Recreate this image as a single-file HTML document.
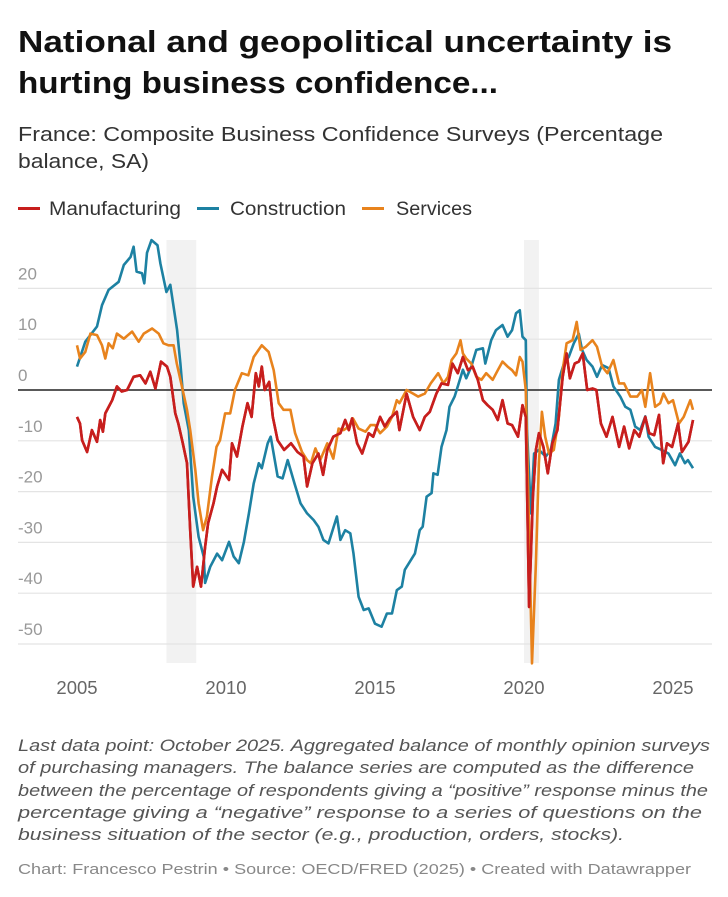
<!DOCTYPE html>
<html><head><meta charset="utf-8">
<style>
html,body{margin:0;padding:0;background:#fff;}
svg{display:block;font-family:"Liberation Sans",Arial,sans-serif;}
</style></head>
<body>
<svg id="chart" width="728" height="897" viewBox="0 0 728 897" xmlns="http://www.w3.org/2000/svg">
<g font-weight="bold" font-size="31" fill="#111">
<text x="18" y="52" textLength="654" lengthAdjust="spacingAndGlyphs">National and geopolitical uncertainty is</text>
<text x="18" y="93" textLength="480" lengthAdjust="spacingAndGlyphs">hurting business confidence...</text>
</g>
<g font-size="20" fill="#333">
<text x="18" y="141" textLength="645" lengthAdjust="spacingAndGlyphs">France: Composite Business Confidence Surveys (Percentage</text>
<text x="18" y="168" textLength="131" lengthAdjust="spacingAndGlyphs">balance, SA)</text>
</g>
<g font-size="19" fill="#333">
<g><rect x="18" y="207" width="22" height="3" fill="#c71e1d"/><text x="49" y="215" textLength="132" lengthAdjust="spacingAndGlyphs">Manufacturing</text></g>
<g><rect x="197" y="207" width="22" height="3" fill="#1d81a2"/><text x="230" y="215" textLength="116" lengthAdjust="spacingAndGlyphs">Construction</text></g>
<g><rect x="362" y="207" width="22" height="3" fill="#e8831d"/><text x="396" y="215" textLength="76" lengthAdjust="spacingAndGlyphs">Services</text></g>
</g>
<g id="plot"></g>
<g font-size="17" font-style="italic" fill="#555">
<text x="18" y="751" textLength="692" lengthAdjust="spacingAndGlyphs">Last data point: October 2025. Aggregated balance of monthly opinion surveys</text>
<text x="18" y="773" textLength="676" lengthAdjust="spacingAndGlyphs">of purchasing managers. The balance series are computed as the difference</text>
<text x="18" y="796" textLength="690" lengthAdjust="spacingAndGlyphs">between the percentage of respondents giving a “positive” response minus the</text>
<text x="18" y="818" textLength="684" lengthAdjust="spacingAndGlyphs">percentage giving a “negative” response to a series of questions on the</text>
<text x="18" y="840" textLength="606" lengthAdjust="spacingAndGlyphs">business situation of the sector (e.g., production, orders, stocks).</text>
</g>
<text x="18" y="874" font-size="15" fill="#888" textLength="673" lengthAdjust="spacingAndGlyphs">Chart: Francesco Pestrin • Source: OECD/FRED (2025) • Created with Datawrapper</text>
</svg>
<script>
const yTicks=[20,10,0,-10,-20,-30,-40,-50];
const xTicks=[2005,2010,2015,2020,2025];
const recessions=[[2008.0,2009.0],[2020.0,2020.5]];
const conT=[2005.0,2005.28,2005.67,2005.84,2006.06,2006.4,2006.57,2006.8,2006.9,2007.0,2007.18,2007.26,2007.35,2007.5,2007.7,2007.8,2008.0,2008.13,2008.36,2008.47,2008.58,2008.75,2008.9,2009.08,2009.25,2009.3,2009.47,2009.7,2009.87,2010.1,2010.26,2010.43,2010.6,2010.77,2010.93,2011.1,2011.2,2011.4,2011.5,2011.73,2011.9,2012.07,2012.3,2012.5,2012.72,2012.94,2013.1,2013.27,2013.44,2013.72,2013.84,2014.0,2014.17,2014.28,2014.45,2014.62,2014.79,2015.0,2015.22,2015.4,2015.57,2015.73,2015.9,2016.0,2016.34,2016.5,2016.6,2016.73,2016.9,2016.96,2017.1,2017.23,2017.4,2017.5,2017.67,2017.78,2017.95,2018.06,2018.23,2018.4,2018.62,2018.7,2018.9,2019.06,2019.28,2019.45,2019.6,2019.73,2019.86,2019.95,2020.06,2020.1,2020.23,2020.34,2020.5,2020.73,2020.9,2021.06,2021.17,2021.34,2021.5,2021.67,2021.84,2021.95,2022.1,2022.3,2022.45,2022.62,2022.84,2023.0,2023.23,2023.4,2023.57,2023.73,2023.9,2024.07,2024.18,2024.4,2024.62,2024.85,2025.07,2025.23,2025.4,2025.5,2025.67];
const conV=[4.6,9.5,12.5,16.7,19.7,21.3,24.6,26.2,28.2,23.3,23,21,27,29.5,28.5,24.9,19.3,20.7,11.8,5.2,-2.6,-7.9,-21,-28.9,-32.8,-38,-34.8,-32.2,-33.5,-29.9,-32.8,-34.1,-29.9,-24.3,-18.4,-14.4,-15.4,-10.5,-9.2,-17,-17.4,-13.8,-18.4,-22.3,-24.3,-25.6,-26.9,-29.5,-30.2,-24.9,-29.5,-27.6,-28.2,-32.2,-40.7,-43.3,-43,-46,-46.6,-44,-44,-39.4,-38.7,-35.4,-32.2,-27.6,-26.9,-21,-20.3,-16.4,-16.7,-11.2,-7.9,-3.3,-1.3,0.7,4.0,2.3,4.6,7.9,8.2,5.2,9.8,11.8,12.8,10.5,11.8,15.1,15.7,10.5,9.8,-7.9,-24.3,-12.5,-11.8,-13.1,-11.8,-6.6,2,5.2,6.5,9.2,11.1,7.9,5.9,4.6,2.6,4.9,4.3,0.7,-1.3,-3.3,-3.9,-7.2,-7.9,-5.2,-9.2,-11.2,-11.8,-12.5,-14.8,-12.5,-14.4,-13.8,-15.4];
const manT=[2005.0,2005.1,2005.17,2005.34,2005.5,2005.67,2005.78,2005.87,2005.95,2006.18,2006.34,2006.5,2006.68,2006.9,2007.12,2007.3,2007.46,2007.63,2007.82,2008.02,2008.13,2008.3,2008.4,2008.55,2008.69,2008.8,2008.9,2009.03,2009.16,2009.3,2009.4,2009.58,2009.7,2009.87,2010.1,2010.2,2010.37,2010.55,2010.72,2010.86,2011.0,2011.1,2011.2,2011.3,2011.45,2011.57,2011.73,2011.95,2012.18,2012.4,2012.6,2012.72,2012.9,2013.1,2013.26,2013.4,2013.6,2013.84,2014.0,2014.12,2014.23,2014.4,2014.57,2014.79,2014.94,2015.17,2015.33,2015.5,2015.73,2015.82,2016.06,2016.28,2016.5,2016.67,2016.84,2017.06,2017.23,2017.45,2017.6,2017.78,2017.95,2018.12,2018.28,2018.45,2018.62,2018.78,2018.95,2019.12,2019.28,2019.45,2019.6,2019.8,2019.95,2020.06,2020.17,2020.3,2020.4,2020.5,2020.65,2020.8,2020.95,2021.12,2021.3,2021.43,2021.54,2021.7,2021.84,2021.97,2022.12,2022.3,2022.43,2022.58,2022.77,2022.97,2023.19,2023.36,2023.53,2023.7,2023.87,2024.07,2024.2,2024.37,2024.53,2024.67,2024.8,2024.97,2025.17,2025.3,2025.52,2025.67];
const manV=[-5.3,-6.6,-9.9,-12.2,-7.9,-10.2,-5.9,-8.2,-4.6,-2,0.7,-0.3,0,2.6,2.9,1.3,3.6,0.3,5.6,4.6,2.6,-4.6,-6.6,-10.5,-14.4,-27.6,-38.7,-34.8,-38.7,-30.9,-26.2,-22.3,-19,-15.7,-17.7,-10.5,-13.1,-7.2,-2.6,-5.3,3.3,0.7,4.6,0,1.6,-5.3,-9.9,-11.8,-10.5,-12.2,-13.1,-19,-14.4,-12.5,-16.7,-11.8,-9.2,-8.5,-5.9,-7.9,-5.6,-10.5,-12.5,-8.5,-9.2,-5.3,-7.2,-5.6,-4.3,-7.9,-0.7,-5.3,-7.9,-5.3,-4.3,-0.7,1.3,1,5.2,3.3,6.5,3.9,4.6,2,-2,-3,-3.9,-5.9,-2,-6.6,-6.9,-9.2,-3,-5.3,-42.7,-21,-11.8,-8.5,-11.2,-16.4,-10.5,-7.9,2.6,7.2,2.3,5.2,5.6,7.2,0,0.3,0,-6.6,-9.2,-5.3,-11.2,-7.2,-11.5,-7.9,-9.2,-5.3,-8.5,-8.9,-4.9,-14.4,-10.5,-11.2,-6.6,-12.2,-10.2,-5.9];
const serT=[2005.0,2005.1,2005.28,2005.45,2005.67,2005.84,2005.95,2006.06,2006.2,2006.34,2006.57,2006.85,2007.07,2007.24,2007.52,2007.74,2007.9,2008.07,2008.24,2008.35,2008.52,2008.69,2008.8,2008.97,2009.08,2009.23,2009.36,2009.53,2009.68,2009.8,2009.97,2010.14,2010.3,2010.53,2010.75,2010.93,2011.2,2011.43,2011.6,2011.77,2011.93,2012.16,2012.32,2012.55,2012.72,2012.85,2013.0,2013.16,2013.4,2013.6,2013.78,2013.95,2014.12,2014.26,2014.45,2014.68,2014.85,2015.0,2015.17,2015.4,2015.57,2015.73,2015.82,2016.06,2016.28,2016.45,2016.67,2016.87,2017.12,2017.3,2017.45,2017.57,2017.73,2017.87,2017.95,2018.06,2018.23,2018.4,2018.57,2018.73,2018.95,2019.12,2019.28,2019.45,2019.6,2019.73,2019.86,2019.95,2020.06,2020.17,2020.27,2020.4,2020.5,2020.6,2020.71,2020.84,2021.0,2021.17,2021.3,2021.43,2021.63,2021.77,2021.9,2022.07,2022.3,2022.45,2022.62,2022.8,2023.0,2023.19,2023.36,2023.57,2023.8,2023.96,2024.07,2024.23,2024.4,2024.57,2024.68,2024.85,2025.0,2025.2,2025.36,2025.58,2025.67];
const serV=[8.8,6.2,7.5,11.1,10.8,8.8,6.2,9.2,8.2,11.1,10.1,11.5,9.5,11.1,12.1,11.1,9.2,8.8,8.8,5.2,0.7,-3.9,-7.9,-15.7,-22.3,-27.6,-24.9,-17,-11.2,-9.9,-4.6,-4.6,0,3.3,2.9,6.5,8.8,7.5,3.9,-2.6,-3.9,-3.9,-8.5,-12.2,-13.8,-14.4,-11.5,-13.8,-10.5,-13.5,-7.6,-7.9,-7.2,-5.6,-7.6,-8.2,-6.9,-6.9,-8.5,-7.2,-5.3,-2,-2.6,0,-0.7,-1.3,-0.7,1.3,3.3,1.3,2.6,5.9,7.2,9.8,7.2,6.2,5.2,2.6,2,3.3,2,3.9,5.6,4.6,3.9,2.9,6.5,5.6,0,-27.6,-53.8,-34.1,-14.4,-4.3,-9.2,-12.5,-11.8,-5.3,3.9,9.2,9.8,13.4,7.9,8.5,9.8,8.5,4.6,3.3,5.9,1.3,1.3,-1.3,-1.3,0,-3.3,3.3,-3.3,-2.6,-0.7,-2.6,-2,-6.6,-5.3,-2,-3.9];

const NS='http://www.w3.org/2000/svg';
const plot=document.getElementById('plot');
const X0=77, XPY=29.8, Y0=390, YPU=5.08;
function xs(t){return X0+(t-2005)*XPY;}
function ys(v){return Y0-v*YPU;}
function mk(tag,attrs){const e=document.createElementNS(NS,tag);for(const k in attrs)e.setAttribute(k,attrs[k]);plot.appendChild(e);return e;}

recessions.forEach(r=>{
  const e=mk('rect',{x:xs(r[0]),y:240,width:xs(r[1])-xs(r[0]),height:423,fill:'#f2f2f2'});
  
  
});
yTicks.forEach(v=>{
  const l=mk('line',{x1:18,x2:712,y1:ys(v),y2:ys(v),stroke:v===0?'#222':'#e4e4e4','stroke-width':v===0?1.6:1.2});
  
  
  const t=mk('text',{x:18,y:ys(v)-9,'font-size':17,fill:'#999'});
  t.textContent=String(v);
  
  
});
xTicks.forEach(y=>{
  const t=mk('text',{x:xs(y),y:694,'font-size':18.5,fill:'#666','text-anchor':'middle'});
  t.textContent=String(y);
  
  
});
function line(T,V,color,name){
  const d=T.map((t,i)=>(i?'L':'M')+xs(t).toFixed(1)+','+ys(V[i]).toFixed(1)).join('');
  const p=mk('path',{d:d,fill:'none',stroke:color,'stroke-width':2.6,'stroke-linejoin':'round'});
  
  
}
line(conT,conV,'#1d81a2','construction-line');
line(manT,manV,'#c71e1d','manufacturing-line');
line(serT,serV,'#e8831d','services-line');
line(manT,manV,'#c71e1d','manufacturing-line-top');
</script>
</body></html>
